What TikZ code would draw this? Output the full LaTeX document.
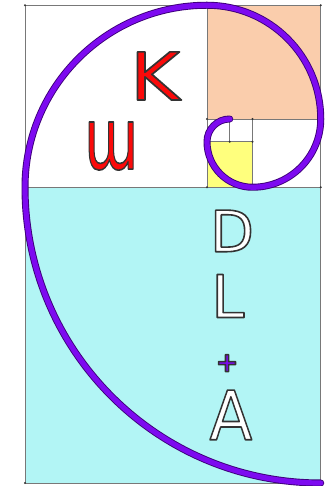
\documentclass[tikz,border=0pt]{standalone}
\usepackage{fontspec}
\setmainfont{DejaVu Sans}
\definecolor{cyanbg}{RGB}{178,245,245}
\definecolor{peach}{RGB}{250,205,172}
\definecolor{lyellow}{RGB}{255,255,125}
\definecolor{spiralc}{RGB}{125,10,240}
\definecolor{spiraledge}{RGB}{60,0,120}
\definecolor{letred}{RGB}{250,10,10}
\definecolor{gridgray}{RGB}{120,120,120}
\newcommand{\strokedtext}[1]{\special{pdf:code 2 Tr 1.6 w 0.2 0.2 0.2 RG 1 j}#1\special{pdf:code 0 Tr}}
\begin{document}
\begin{tikzpicture}[x=22.75pt,y=22.75pt,
  gridline/.style={draw=gridgray,line width=0.8pt},
  vdot/.style={fill=black!80,draw=none},
  letter/.style={inner sep=0pt},
  spiraloutline/.style={draw=spiraledge,line width=7pt,line cap=round,line join=round},
  spiralfill/.style={draw=spiralc,line width=5.2pt,line cap=round,line join=round}]
\useasboundingbox (-25pt,-3pt) rectangle (302pt,483pt);
% fills
\fill[cyanbg] (0,0) rectangle (13,13);
\fill[peach] (8,16) rectangle (13,21);
\fill[lyellow] (8,13) rectangle (10,15);
% grid lines
\draw[gridline] (0,0) rectangle (13,21);
\draw[gridline] (0,13) -- (13,13);
\draw[gridline] (8,13) -- (8,21);
\draw[gridline] (8,16) -- (13,16);
\draw[gridline] (10,13) -- (10,16);
\draw[gridline] (8,15) -- (10,15);
\draw[gridline] (9,15) -- (9,16);
% vertex dots
\foreach \p in {(0,0),(13,0),(0,13),(8,13),(13,13),(0,21),(8,21),(13,21),(8,16),(13,16),(10,16),(10,13),(8,15),(10,15),(9,15),(9,16)}
  \fill[vdot] \p circle (1.2pt);
% spiral
\coordinate (s0) at (13,0);
\foreach \st in {spiraloutline,spiralfill}{
\draw[\st] (s0) arc[start angle=-90,end angle=-180,radius=13]
  arc[start angle=180,end angle=90,radius=8]
  arc[start angle=90,end angle=0,radius=5]
  arc[start angle=0,end angle=-90,radius=3]
  arc[start angle=-90,end angle=-180,radius=2]
  arc[start angle=180,end angle=90,radius=1];
}
% letters
\node[letter,text=letred,xscale=1.15,font={\fontsize{66}{66}\selectfont}] (K) at (5.71,17.89) {\strokedtext{K}};
\node[letter,text=letred,xscale=0.64,font={\fontsize{86}{86}\selectfont}] (W) at (3.78,14.81) {\strokedtext{ɯ}};
\node[letter,text=white,font={\fontsize{57}{57}\selectfont}] (D) at (9.10,11.08) {\strokedtext{D}};
\node[letter,text=white,font={\fontsize{59}{59}\selectfont}] (L) at (8.92,8.22) {\strokedtext{L}};
\node[letter,text=spiralc,font={\fontsize{27}{27}\selectfont\bfseries}] (P) at (8.88,5.27) {\strokedtext{+}};
\node[letter,text=white,xscale=0.92,font={\fontsize{68}{68}\selectfont}] (A) at (9.05,2.99) {\strokedtext{A}};
\end{tikzpicture}
\end{document}
